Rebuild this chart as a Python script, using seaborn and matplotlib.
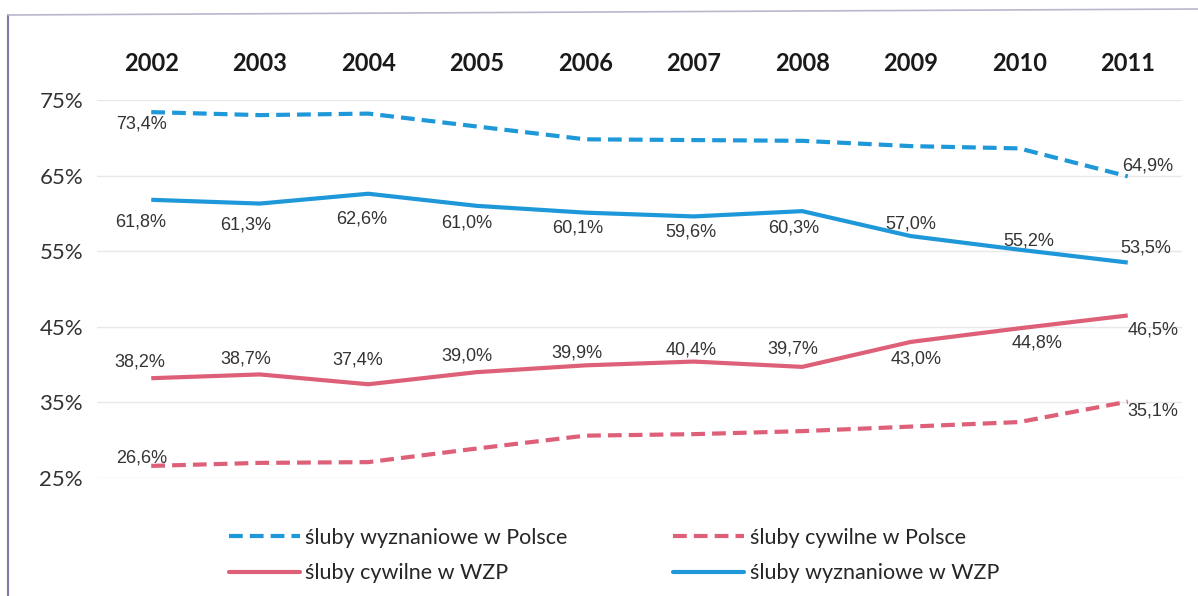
import matplotlib
matplotlib.use("Agg")
import matplotlib.pyplot as plt
import seaborn as sns
import pandas as pd
from matplotlib.lines import Line2D

# ---- data ----
years = ["2002", "2003", "2004", "2005", "2006", "2007", "2008", "2009", "2010", "2011"]
wyz_polska = [73.4, 73.0, 73.2, 71.5, 69.8, 69.7, 69.6, 68.9, 68.6, 64.9]
cyw_polska = [26.6, 27.0, 27.1, 28.9, 30.6, 30.8, 31.2, 31.8, 32.4, 35.1]
cyw_wzp = [38.2, 38.7, 37.4, 39.0, 39.9, 40.4, 39.7, 43.0, 44.8, 46.5]
wyz_wzp = [61.8, 61.3, 62.6, 61.0, 60.1, 59.6, 60.3, 57.0, 55.2, 53.5]
names = ["śluby wyznaniowe w Polsce", "śluby cywilne w WZP",
         "śluby cywilne w Polsce", "śluby wyznaniowe w WZP"]
y_ticks = [25, 35, 45, 55, 65, 75]

# ---- style ----
BLUE = "#1E98D8"
RED = "#DE5F78"
TXT = "#333333"
DASH = (0, (3.3, 1.7))

sns.set_theme(style="white")
plt.rcParams["font.family"] = ["Liberation Sans", "DejaVu Sans"]

W, H = 1198, 596
fig = plt.figure(figsize=(W / 100, H / 100), dpi=100)
fig.patch.set_facecolor("white")
ax = fig.add_axes([97 / W, 1 - 478 / H, (1182 - 97) / W, (478 - 100) / H])

x = list(range(len(years)))
df = pd.DataFrame({"x": x * 4,
                   "v": wyz_polska + cyw_wzp + cyw_polska + wyz_wzp,
                   "s": sum([[n] * len(years) for n in names], [])})

styles = {
    names[0]: dict(color=BLUE, linestyle=DASH),
    names[1]: dict(color=RED, linestyle="-"),
    names[2]: dict(color=RED, linestyle=DASH),
    names[3]: dict(color=BLUE, linestyle="-"),
}
for n in names:
    sub = df[df["s"] == n]
    sns.lineplot(data=sub, x="x", y="v", ax=ax, lw=3, legend=False,
                 solid_capstyle="butt", dash_capstyle="butt", **styles[n])

# label offsets in pixels (dx, dy) — positive dy is up
off_wyz_wzp = [(-11, -22), (-14, -21), (-7, -25), (-10, -17), (-8, -15),
               (-3, -16), (-9, -17), (0, 12), (9, 9), (18, 15)]
off_cyw_wzp = [(-11, 16), (-14, 15), (-11, 24), (-10, 16), (-8, 12),
               (-3, 12), (-9, 18), (5, -17), (18, -15), (25, -15)]
off_wyz_pol = {0: (-10, -12), 9: (20, 10)}
off_cyw_pol = {0: (-10, 8), 9: (25, -9)}


def fmt(v):
    return f"{v:.1f}%".replace(".", ",")


def put(vals, offs):
    items = offs.items() if isinstance(offs, dict) else enumerate(offs)
    for i, (dx, dy) in items:
        ax.annotate(fmt(vals[i]), (x[i], vals[i]), xytext=(dx, dy),
                    textcoords="offset pixels", ha="center", va="center",
                    fontsize=13, color=TXT, family=["Liberation Sans", "DejaVu Sans"])


put(wyz_wzp, off_wyz_wzp)
put(cyw_wzp, off_cyw_wzp)
put(wyz_polska, off_wyz_pol)
put(cyw_polska, off_cyw_pol)

ax.set_xlim(-0.5, len(years) - 0.5)
ax.set_ylim(25, 75)
ax.set_yticks(y_ticks)
ax.set_yticklabels([f"{t}%" for t in y_ticks], fontsize=16, color=TXT,
                   family=["Lato", "DejaVu Sans"])
ax.set_xticks(x)
ax.set_xticklabels(years, fontsize=17, fontweight="bold", color="#1a1a1a",
                   family=["Lato", "DejaVu Sans"])
ax.xaxis.tick_top()
ax.tick_params(axis="x", top=False, bottom=False, labeltop=True,
               labelbottom=False, pad=18, length=0)
ax.tick_params(axis="y", left=False, length=0, pad=10)
ax.set_xlabel("")
ax.set_ylabel("")
ax.grid(False)
ax.yaxis.grid(True, color="#e8e8e8", lw=1)
ax.set_axisbelow(True)
for sp in ax.spines.values():
    sp.set_visible(False)

handles = [Line2D([], [], lw=3, **styles[n]) for n in names]
fig.legend(handles, names, ncol=2, loc="upper left",
           bbox_to_anchor=(229 / W, 1 - 528 / H), frameon=False,
           handlelength=3.3, handletextpad=0.25, columnspacing=4.9,
           labelspacing=0.7, borderpad=0, borderaxespad=0,
           prop={"family": ["Lato", "DejaVu Sans"], "size": 15.5})

# scanned frame
fig.add_artist(Line2D([8 / W, 8 / W], [0, 1 - 15 / H], transform=fig.transFigure,
                      color="#7b7ba8", lw=1.5))
fig.add_artist(Line2D([8 / W, 1], [1 - 15 / H, 1 - 9 / H], transform=fig.transFigure,
                      color="#b8b8cc", lw=1.2))

fig.savefig("out.png", dpi=100, facecolor="white")
